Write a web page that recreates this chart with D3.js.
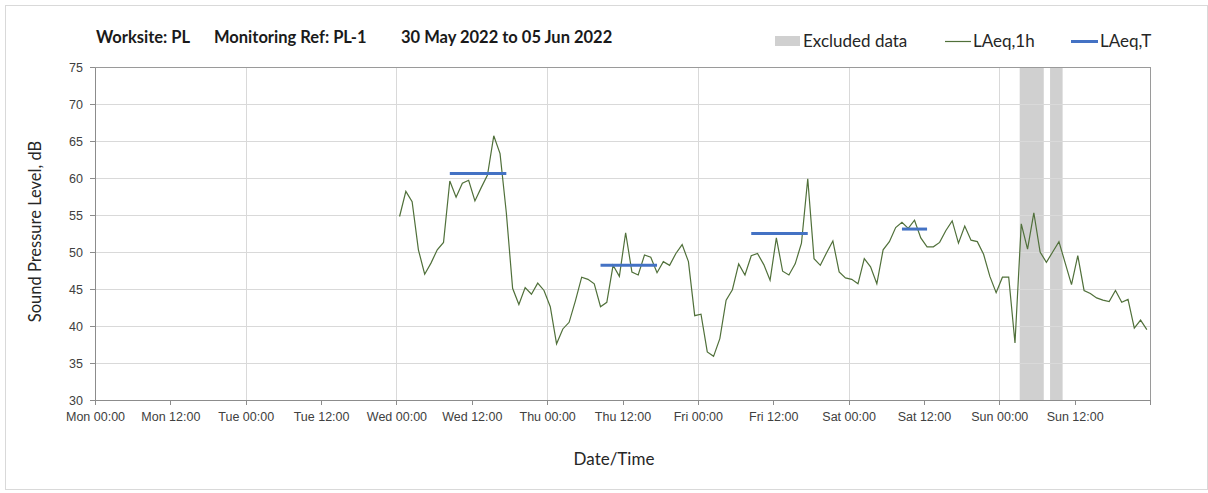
<!DOCTYPE html>
<html lang="en">
<head>
    <meta charset="UTF-8">
    <title>Worksite PL - Monitoring Ref PL-1</title>
    <script src="https://d3js.org/d3.v7.min.js"></script>
    <style>
        body {
            margin: 0;
            background: #fff;
            font-family: Lato, "Open Sans", sans-serif;
        }
        .grid line {
            stroke: #d9d9d9;
            shape-rendering: crispEdges;
        }
        .axis path, .axis line {
            stroke: #8c8c8c;
            shape-rendering: crispEdges;
        }
        .axis text {
            fill: #404040;
            font-size: 12.5px;
        }
    </style>
</head>
<body>
    <svg id="chart"></svg>

    <script>
        // hourly LAeq,1h readings, first one at Wed 01 Jun 00:30
        const firstReading = new Date(2022, 5, 1, 0, 30);
        const laeq1h = [
            54.8, 58.2, 56.8, 50.3, 47.0, 48.5, 50.3, 51.3, 59.6, 57.4, 59.3, 59.7,
            56.9, 58.7, 60.4, 65.7, 63.3, 55.3, 45.1, 42.9, 45.2, 44.3, 45.8, 44.8,
            42.6, 37.6, 39.6, 40.5, 43.4, 46.6, 46.3, 45.7, 42.6, 43.2, 48.2, 46.7,
            52.6, 47.3, 46.9, 49.6, 49.3, 47.2, 48.7, 48.2, 49.8, 51.0, 48.7, 41.4,
            41.6, 36.5, 35.9, 38.3, 43.5, 44.9, 48.4, 46.9, 49.5, 49.8, 48.3, 46.2,
            51.9, 47.4, 46.9, 48.4, 51.2, 59.9, 49.1, 48.2, 49.9, 51.5, 47.3, 46.5,
            46.3, 45.7, 49.1, 48.0, 45.7, 50.3, 51.4, 53.3, 54.0, 53.2, 54.3, 51.9,
            50.7, 50.7, 51.3, 52.9, 54.2, 51.2, 53.5, 51.6, 51.4, 49.7, 46.7, 44.5,
            46.6, 46.6, 37.7, 53.8, 50.4, 55.3, 50.0, 48.6, 50.0, 51.4, 48.5, 45.6,
            49.5, 44.8, 44.4, 43.8, 43.5, 43.3, 44.8, 43.2, 43.6, 39.7, 40.8, 39.5
        ];

        // LAeq,T daytime periods: index of first and last hourly reading, level
        const periodStart = [8, 32, 56, 80];
        const periodEnd = [17, 41, 65, 84];
        const periodLevel = [60.6, 48.2, 52.5, 53.1];

        // excluded data windows
        const excludedFrom = [new Date(2022, 5, 5, 3, 15), new Date(2022, 5, 5, 8, 5)];
        const excludedTo = [new Date(2022, 5, 5, 7, 5), new Date(2022, 5, 5, 10, 5)];

        const yTicks = [30, 35, 40, 45, 50, 55, 60, 65, 70, 75];

        const W = 1208, H = 493;
        const margin = { top: 67, right: 58, bottom: 93, left: 95 };
        const width = W - margin.left - margin.right;
        const height = H - margin.top - margin.bottom;

        const readings = laeq1h.map((v, i) => ({ t: d3.timeHour.offset(firstReading, i), v: v }));

        const svg = d3.select("#chart")
            .attr("width", W)
            .attr("height", H);

        // outer frame
        svg.append("rect")
            .attr("x", 5.5).attr("y", 5.5)
            .attr("width", W - 6).attr("height", H - 9)
            .attr("fill", "none")
            .attr("stroke", "#d9d9d9");

        const g = svg.append("g")
            .attr("transform", `translate(${margin.left},${margin.top})`);

        const x = d3.scaleTime()
            .domain([new Date(2022, 4, 30), new Date(2022, 5, 6)])
            .range([0, width]);
        const y = d3.scaleLinear().domain([30, 75]).range([height, 0]);

        const fmtTick = d => d3.timeFormat("%a %H:%M")(d);

        // excluded bands go behind the grid
        g.selectAll(".excluded")
            .data(excludedFrom.map((d, i) => [d, excludedTo[i]]))
            .enter().append("rect")
            .attr("class", "excluded")
            .attr("x", d => x(d[0]))
            .attr("width", d => x(d[1]) - x(d[0]))
            .attr("y", 0)
            .attr("height", height)
            .attr("fill", "#d0d0d0");

        // gridlines
        g.append("g")
            .attr("class", "grid")
            .call(d3.axisLeft(y).tickValues(yTicks).tickSize(-width).tickFormat(""))
            .call(a => a.select(".domain").remove());
        g.append("g")
            .attr("class", "grid")
            .attr("transform", `translate(0,${height})`)
            .call(d3.axisBottom(x).ticks(d3.timeDay.every(1)).tickSize(-height).tickFormat(""))
            .call(a => a.select(".domain").remove());

        // plot border
        g.append("rect")
            .attr("x", 0).attr("y", 0)
            .attr("width", width).attr("height", height)
            .attr("fill", "none")
            .attr("stroke", "#9a9a9a")
            .attr("shape-rendering", "crispEdges");

        // axes
        g.append("g")
            .attr("class", "axis")
            .attr("transform", `translate(0,${height})`)
            .call(d3.axisBottom(x)
                .ticks(d3.timeHour.every(12))
                .tickSize(5)
                .tickPadding(7)
                .tickFormat((d, i) => (i < 14 ? fmtTick(d) : "")));

        g.append("g")
            .attr("class", "axis")
            .call(d3.axisLeft(y).tickValues(yTicks).tickSizeInner(5).tickSizeOuter(0).tickPadding(7));

        // LAeq,1h line
        const line = d3.line()
            .x(d => x(d.t))
            .y(d => y(d.v));

        g.append("path")
            .datum(readings)
            .attr("fill", "none")
            .attr("stroke", "#50703a")
            .attr("stroke-width", 1.2)
            .attr("d", line);

        // LAeq,T segments
        g.selectAll(".laeqT")
            .data(periodLevel.map((v, i) => ({ a: readings[periodStart[i]].t, b: readings[periodEnd[i]].t, v: v })))
            .enter().append("line")
            .attr("class", "laeqT")
            .attr("x1", d => x(d.a))
            .attr("x2", d => x(d.b))
            .attr("y1", d => y(d.v))
            .attr("y2", d => y(d.v))
            .attr("stroke", "#4472c4")
            .attr("stroke-width", 3);

        // title, three pieces
        const title = svg.append("text")
            .attr("y", 43)
            .attr("font-size", "16.5px")
            .attr("font-weight", "bold")
            .attr("fill", "#1a1a1a");
        title.append("tspan").attr("x", 96).text("Worksite: PL");
        title.append("tspan").attr("x", 214).text("Monitoring Ref: PL-1");
        title.append("tspan").attr("x", 401).text("30 May 2022 to 05 Jun 2022");

        // legend
        const legend = svg.append("g").attr("font-size", "17px").attr("fill", "#262626");
        legend.append("rect")
            .attr("x", 775).attr("y", 36).attr("width", 25).attr("height", 10)
            .attr("fill", "#d0d0d0");
        legend.append("text").attr("x", 803).attr("y", 47).text("Excluded data");
        legend.append("line")
            .attr("x1", 945).attr("x2", 971).attr("y1", 41.5).attr("y2", 41.5)
            .attr("stroke", "#50703a").attr("stroke-width", 1.2);
        legend.append("text").attr("x", 973).attr("y", 47).text("LAeq,1h");
        legend.append("line")
            .attr("x1", 1071).attr("x2", 1098).attr("y1", 41.5).attr("y2", 41.5)
            .attr("stroke", "#4472c4").attr("stroke-width", 3);
        legend.append("text").attr("x", 1100).attr("y", 47).text("LAeq,T");

        // axis titles
        svg.append("text")
            .attr("transform", `translate(41,${margin.top + height / 2 - 2}) rotate(-90)`)
            .attr("text-anchor", "middle")
            .attr("font-size", "16.5px")
            .attr("fill", "#262626")
            .text("Sound Pressure Level, dB");

        svg.append("text")
            .attr("x", 614).attr("y", 465)
            .attr("text-anchor", "middle")
            .attr("font-size", "17px")
            .attr("fill", "#262626")
            .text("Date/Time");
    </script>
</body>
</html>
